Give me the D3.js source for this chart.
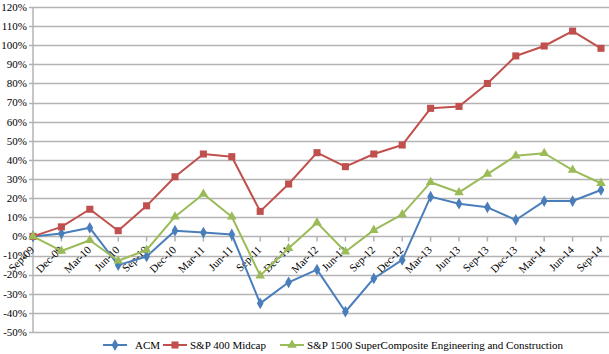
<!DOCTYPE html>
<html>
<head>
<meta charset="utf-8">
<script src="https://cdn.jsdelivr.net/npm/d3@7"></script>
<style>
html,body{margin:0;padding:0;background:#fff;}
svg{display:block;font-family:"Liberation Serif","Times New Roman",serif;}
</style>
</head>
<body>
<svg id="chart" width="609" height="354"></svg>
<script>
const categories = ["Sep-09","Dec-09","Mar-10","Jun-10","Sep-10","Dec-10","Mar-11","Jun-11","Sep-11","Dec-11","Mar-12","Jun-12","Sep-12","Dec-12","Mar-13","Jun-13","Sep-13","Dec-13","Mar-14","Jun-14","Sep-14"];
const acm = [0,1.5,4.5,-15,-10.5,3,2,1,-35,-24,-17.4,-39.4,-22,-12.3,20.8,17.1,15.2,8.6,18.5,18.5,24.3];
const midcap = [0,5,14.2,3,16,31.2,43.1,41.7,13.1,27.4,43.8,36.5,43.1,47.8,67,68,80,94.4,99.6,107.4,98.4];
const engcon = [0,-7.6,-2,-12.7,-7.1,10.3,22.2,10.3,-20.5,-6.2,7.2,-8,3.3,11.5,28.3,23,32.6,42.2,43.5,34.7,27.8];
const yTicks = [120,110,100,90,80,70,60,50,40,30,20,10,0,-10,-20,-30,-40,-50];
const seriesNames = ["ACM","S&P 400 Midcap","S&P 1500 SuperComposite Engineering and Construction"];

const series = [
  {name: seriesNames[0], values: acm, color: "#4A7EBB", symbol: d3.symbolDiamond},
  {name: seriesNames[1], values: midcap, color: "#C0504D", symbol: d3.symbolSquare},
  {name: seriesNames[2], values: engcon, color: "#9BBB59", symbol: d3.symbolTriangle}
];

const svg = d3.select("#chart");
const pLeft = 33, pRight = 601, pTop = 7, pBottom = 332;

const x = d3.scalePoint().domain(categories).range([pLeft, pRight]);
const y = d3.scaleLinear().domain([-50, 120]).range([pBottom, pTop]);

// gridlines
svg.append("g").selectAll("line").data(yTicks).join("line")
  .attr("x1", pLeft - 4).attr("x2", 609)
  .attr("y1", d => Math.round(y(d)) + 0.5).attr("y2", d => Math.round(y(d)) + 0.5)
  .attr("stroke", "#b3b3b3").attr("stroke-width", 1.5);

// y axis line
svg.append("line").attr("x1", pLeft).attr("x2", pLeft).attr("y1", pTop).attr("y2", pBottom)
  .attr("stroke", "#b3b3b3").attr("stroke-width", 1.5);

// y labels
svg.append("g").selectAll("text").data(yTicks).join("text")
  .attr("x", 27).attr("y", d => y(d)).attr("dy", "0.35em")
  .attr("text-anchor", "end").attr("font-size", 11).attr("fill", "#000")
  .text(d => d + "%");

// category ticks
const y0 = Math.round(y(0)) + 0.5;
svg.append("g").selectAll("line").data(categories).join("line")
  .attr("x1", d => x(d)).attr("x2", d => x(d))
  .attr("y1", y0).attr("y2", y0 + 5)
  .attr("stroke", "#b3b3b3").attr("stroke-width", 1.5);

// category labels
svg.append("g").selectAll("text").data(categories).join("text")
  .attr("transform", d => `translate(${x(d) + 2},${y0 + 14}) rotate(-45)`)
  .attr("text-anchor", "end").attr("font-size", 11).attr("fill", "#000")
  .text(d => d);

// series
const line = d3.line().x((d, i) => x(categories[i])).y(d => y(d));
series.forEach(s => {
  const g = svg.append("g");
  g.append("path").attr("d", line(s.values)).attr("fill", "none")
    .attr("stroke", s.color).attr("stroke-width", 2).attr("stroke-linejoin", "round");
  g.selectAll("path.m").data(s.values).join("path").attr("class", "m")
    .attr("transform", (d, i) => `translate(${x(categories[i])},${y(d)})`)
    .attr("d", d3.symbol().type(s.symbol).size(s.symbol === d3.symbolSquare ? 50 : 40))
    .attr("fill", s.color);
});

// legend
const legendPos = [{lx: 103, tx: 135}, {lx: 163, tx: 190}, {lx: 280, tx: 307}];
series.forEach((s, i) => {
  const p = legendPos[i];
  const ly = 345;
  svg.append("line").attr("x1", p.lx).attr("x2", p.lx + 24).attr("y1", ly).attr("y2", ly)
    .attr("stroke", s.color).attr("stroke-width", 2);
  svg.append("path").attr("transform", `translate(${p.lx + 12},${ly})`)
    .attr("d", d3.symbol().type(s.symbol).size(s.symbol === d3.symbolSquare ? 50 : 40))
    .attr("fill", s.color);
  svg.append("text").attr("x", p.tx).attr("y", ly).attr("dy", "0.35em")
    .attr("font-size", 11).attr("fill", "#000").text(s.name);
});
</script>
</body>
</html>
